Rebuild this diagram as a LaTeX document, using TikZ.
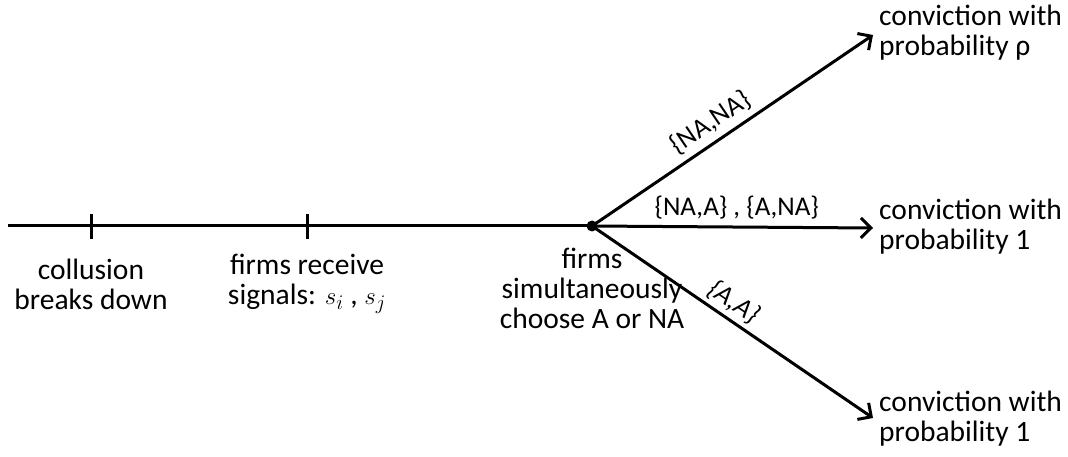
\documentclass[tikz,border=0pt]{standalone}
\usepackage{fontspec}
\setmainfont{Carlito}
\usetikzlibrary{arrows.meta}
\begin{document}
\begin{tikzpicture}[x=1pt,y=-1pt,
  line/.style={line width=3pt},
  arr/.style={line width=3pt,-{Straight Barb[length=10pt,width=20pt,line width=3pt]}},
  txt/.style={font=\fontsize{29.5}{30}\selectfont,align=center,inner sep=0pt},
  rtxt/.style={font=\fontsize{29.5}{30}\selectfont,align=left,inner sep=0pt,anchor=west},
  elab/.style={font=\fontsize{27}{28}\selectfont,inner sep=0pt}]
\useasboundingbox (0,0) rectangle (1068,457);
\coordinate (start) at (8,226);
\coordinate (t1) at (91,226);
\coordinate (t2) at (307,226);
\node[circle,fill=black,inner sep=0pt,minimum size=11pt] (dot) at (592,226) {};
\coordinate (up) at (873,35);
\coordinate (mid) at (873,228);
\coordinate (low) at (873,418);
\draw[line] (start) -- (dot.center);
\draw[line] ([yshift=-13pt]t1) -- ([yshift=12pt]t1);
\draw[line] ([yshift=-13pt]t2) -- ([yshift=12pt]t2);
\draw[arr] (dot.center) -- (up) node[elab,pos=0.46,sloped,above=6pt] (l1) {\{NA,NA\}};
\draw[arr] (dot.center) -- (mid) node[elab,pos=0.515,above=6pt] (l2) {\{NA,A\} , \{A,NA\}};
\draw[arr] (dot.center) -- (low) node[elab,pos=0.47,sloped,above=4pt] (l3) {\textit{\{A,A\}}};
\node[txt] (c1) at (91,284) {collusion\\breaks down};
\node[txt] (c2) at (307,284) {firms receive\\signals: $s_i$ , $s_j$};
\node[txt] (c3) at (592,288) {firms\\simultaneously\\choose A or NA};
\node[rtxt] (r1) at (879,33) {conviction with\\probability ρ};
\node[rtxt] (r2) at (879,227) {conviction with\\probability 1};
\node[rtxt] (r3) at (879,419) {conviction with\\probability 1};
\end{tikzpicture}
\end{document}
